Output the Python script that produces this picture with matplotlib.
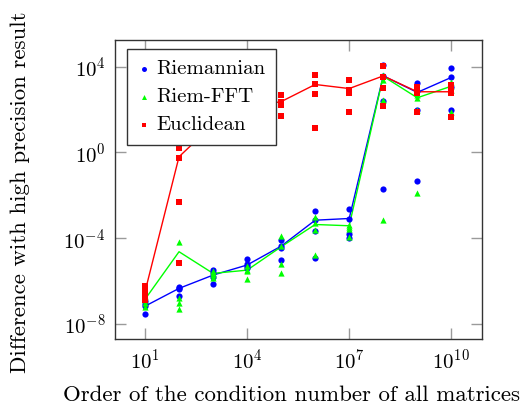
import numpy as np
import matplotlib
matplotlib.use('Agg')
import matplotlib.pyplot as plt
from matplotlib.ticker import NullLocator

plt.rcParams['font.family'] = 'serif'
plt.rcParams['font.serif'] = ['cmr10']
plt.rcParams['mathtext.fontset'] = 'cm'
plt.rcParams['axes.formatter.use_mathtext'] = True

# order of condition number (log10)
cond_exp = [1, 2, 3, 4, 5, 6, 7, 8, 9, 10]

# log10 of the error for each run (4 runs per condition number)
riem_runs = [
    [-6.95, -7.05, -7.17, -7.55],
    [-6.27, -6.34, -6.39, -6.70],
    [-5.49, -5.62, -5.80, -6.15],
    [-4.98, -5.21, -5.30, -5.41],
    [-4.09, -4.37, -4.45, -5.02],
    [-2.74, -3.16, -3.67, -4.91],
    [-2.64, -3.10, -3.81, -4.01],
    [4.10, 3.55, 2.41, -1.69],
    [3.22, 2.88, 2.00, -1.33],
    [3.92, 3.50, 3.07, 2.00],
]
fft_runs = [
    [-6.70, -6.89, -7.00, -7.20],
    [-4.17, -6.81, -7.01, -7.31],
    [-5.52, -5.64, -5.72, -5.85],
    [-5.30, -5.49, -5.55, -5.88],
    [-3.90, -4.37, -5.21, -5.61],
    [-3.00, -3.30, -3.60, -4.76],
    [-3.39, -3.50, -3.55, -3.93],
    [3.60, 3.40, 2.44, -3.16],
    [2.70, 2.55, 2.00, -1.89],
    [3.29, 3.10, 2.90, 1.90],
]
eucl_runs = [
    [-6.24, -6.43, -6.62, -6.86],
    [0.22, -0.25, -2.30, -5.15],
    [1.90, 1.40, 1.10, 0.80],
    [2.60, 2.20, 1.70, 1.00],
    [2.67, 2.36, 2.20, 1.69],
    [3.60, 3.17, 2.72, 1.15],
    [3.37, 2.90, 2.78, 1.89],
    [4.02, 3.50, 3.01, 2.16],
    [3.06, 2.90, 2.75, 1.89],
    [3.14, 2.95, 2.77, 1.63],
]

# log10 of the mean error (the connecting lines)
riem_mean = [-7.17, -6.34, -5.72, -5.25, -4.37, -3.16, -3.08, 3.57, 2.80, 3.50]
fft_mean = [-6.85, -4.63, -5.64, -5.49, -4.40, -3.36, -3.42, 3.55, 2.55, 3.09]
eucl_mean = [-6.50, -0.20, 1.30, 2.10, 2.37, 3.17, 2.98, 3.57, 2.83, 2.83]

series = [
    ('Riemannian', riem_runs, riem_mean, '#0000ff', 'o', 20),
    ('Riem-FFT', fft_runs, fft_mean, '#00ff00', '^', 20),
    ('Euclidean', eucl_runs, eucl_mean, '#ff0000', 's', 17),
]

fig = plt.figure(figsize=(5.25, 4.05), dpi=100)
ax = fig.add_axes([0.219, 0.163, 0.699, 0.738])

x = 10.0 ** np.array(cond_exp)
handles = []
for label, runs, mean, color, marker, size in series:
    runs = np.array(runs)
    xs = np.repeat(x, runs.shape[1])
    h = ax.scatter(xs, 10.0 ** runs.ravel(), s=size, marker=marker, color=color,
                   linewidths=0, label=label, zorder=3)
    ax.plot(x, 10.0 ** np.array(mean), color=color, linewidth=1.0, zorder=2)
    handles.append(h)

ax.set_xscale('log')
ax.set_yscale('log')
ax.set_xlim(10 ** 0.118, 10 ** 10.9)
ax.set_ylim(10 ** -8.70, 10 ** 5.24)
ax.set_xticks([1e1, 1e4, 1e7, 1e10])
ax.set_yticks([1e-8, 1e-4, 1e0, 1e4])
ax.xaxis.set_minor_locator(NullLocator())
ax.yaxis.set_minor_locator(NullLocator())
ax.tick_params(direction='in', length=8, width=1.0, color='#9a9a9a',
               top=True, right=True, labelsize=15, pad=7)
for sp in ax.spines.values():
    sp.set_linewidth(1.0)
    sp.set_color('#333333')

ax.set_xlabel('Order of the condition number of all matrices', fontsize=16.5)
ax.set_ylabel('Difference with high precision result', fontsize=16.5)
ax.xaxis.label.set_va('center')
ax.yaxis.label.set_va('center')
ax.xaxis.set_label_coords(0.482, -0.187)
ax.yaxis.set_label_coords(-0.259, 0.49)

leg = ax.legend(handles=handles, loc='upper left', bbox_to_anchor=(0.032, 0.97),
                fontsize=15, fancybox=False, framealpha=1, edgecolor='#333333',
                handlelength=0.6, handletextpad=0.3, labelspacing=0.45,
                borderpad=0.52, borderaxespad=0, scatterpoints=1, markerscale=0.8)
leg.get_frame().set_linewidth(1.0)

plt.savefig('out.png', dpi=100)
